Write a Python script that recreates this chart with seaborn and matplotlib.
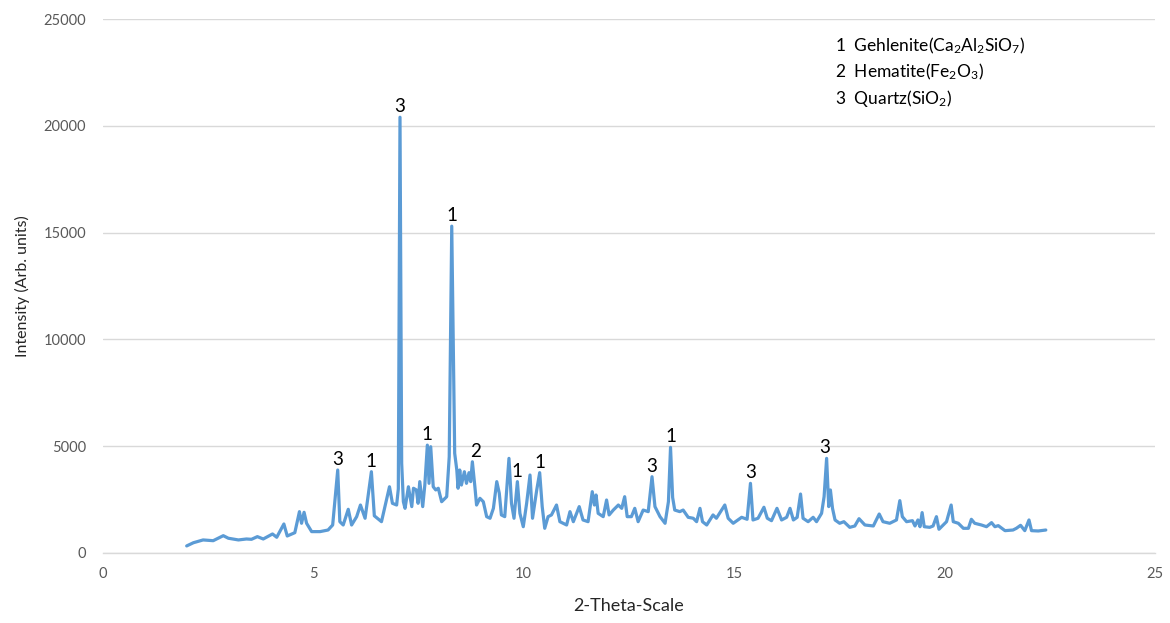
import numpy as np
import pandas as pd
import matplotlib
matplotlib.use("Agg")
import matplotlib.pyplot as plt
import seaborn as sns

# XRD pattern: 2-theta positions and measured intensities
two_theta = [
    1.99, 2.15, 2.38, 2.62, 2.86, 2.98, 3.22, 3.41, 3.53, 3.67, 3.81, 4.03, 4.13,
    4.30, 4.38, 4.56, 4.67, 4.72, 4.78, 4.84, 4.96, 5.16, 5.35, 5.46, 5.58, 5.63,
    5.71, 5.83, 5.91, 6.03, 6.12, 6.23, 6.38, 6.45, 6.62, 6.81, 6.88, 6.98, 7.02,
    7.06, 7.10, 7.14, 7.18, 7.26, 7.34, 7.38, 7.45, 7.49, 7.53, 7.60, 7.65, 7.71,
    7.75, 7.79, 7.85, 7.91, 7.97, 8.05, 8.17, 8.23, 8.29, 8.33, 8.36, 8.41, 8.44,
    8.48, 8.52, 8.59, 8.64, 8.70, 8.74, 8.78, 8.84, 8.88, 8.96, 9.04, 9.12, 9.20,
    9.28, 9.36, 9.42, 9.47, 9.55, 9.65, 9.71, 9.77, 9.85, 9.91, 9.99, 10.07,
    10.15, 10.21, 10.31, 10.38, 10.44, 10.50, 10.58, 10.66, 10.78, 10.86, 11.02,
    11.10, 11.18, 11.32, 11.41, 11.53, 11.63, 11.68, 11.72, 11.77, 11.89, 11.97,
    12.03, 12.13, 12.25, 12.33, 12.40, 12.46, 12.56, 12.64, 12.72, 12.84, 12.96,
    13.05, 13.12, 13.24, 13.36, 13.44, 13.49, 13.54, 13.59, 13.71, 13.79, 13.91,
    14.03, 14.11, 14.19, 14.25, 14.35, 14.50, 14.58, 14.78, 14.86, 14.98, 15.18,
    15.31, 15.39, 15.45, 15.57, 15.71, 15.79, 15.89, 16.02, 16.13, 16.25, 16.33,
    16.41, 16.50, 16.58, 16.64, 16.76, 16.88, 16.96, 17.08, 17.14, 17.20, 17.25,
    17.29, 17.34, 17.40, 17.51, 17.61, 17.75, 17.87, 17.97, 18.11, 18.31, 18.45,
    18.54, 18.70, 18.86, 18.94, 19.00, 19.10, 19.24, 19.30, 19.37, 19.42, 19.47,
    19.52, 19.65, 19.73, 19.81, 19.87, 20.05, 20.16, 20.21, 20.33, 20.45, 20.57,
    20.64, 20.72, 20.88, 21.00, 21.12, 21.20, 21.28, 21.44, 21.63, 21.71, 21.81,
    21.91, 22.01, 22.07, 22.23, 22.41,
]
intensity = [
    330, 480, 610, 575, 810, 690, 610, 655, 640, 765, 655, 890, 735,
    1357, 795, 950, 1935, 1390, 1905, 1390, 1000, 1000, 1075, 1310, 3885, 1465,
    1310, 2045, 1310, 1700, 2245, 1625, 3805, 1740, 1465, 3100, 2325, 2245, 3000,
    20400, 4200, 2400, 2090, 3100, 2170, 3030, 2950, 2325, 3340, 2170, 3180, 5050,
    3260, 4975, 3100, 2950, 3030, 2400, 2635, 4500, 15300, 9000, 4665, 3885, 3030,
    3885, 3180, 3805, 3260, 3760, 3340, 4270, 3100, 2245, 2560, 2400, 1700, 1625,
    2090, 3340, 2795, 1780, 1700, 4430, 2325, 1625, 3340, 1856, 1230, 2325,
    3650, 1625, 2950, 3760, 2170, 1155, 1700, 1780, 2245, 1465, 1310,
    1935, 1465, 2170, 1545, 1465, 2870, 2245, 2715, 1856, 1700, 2480,
    1780, 2010, 2245, 2090, 2635, 1700, 1700, 2090, 1465, 2010, 1935,
    3570, 2170, 1700, 1390, 2400, 4945, 2600, 2010, 1935, 2010, 1670,
    1625, 1465, 2090, 1465, 1310, 1780, 1625, 2245, 1625, 1390, 1670,
    1577, 3260, 1545, 1625, 2140, 1625, 1512, 2090, 1545, 1670, 2090,
    1545, 1670, 2760, 1625, 1465, 1670, 1465, 1856, 2635, 4430, 2170,
    2950, 2090, 1545, 1390, 1465, 1200, 1264, 1605, 1310, 1264, 1825,
    1465, 1390, 1545, 2450, 1700, 1465, 1512, 1264, 1545, 1230, 1890,
    1230, 1200, 1264, 1700, 1110, 1465, 2245, 1465, 1390, 1155, 1155,
    1577, 1390, 1310, 1230, 1420, 1230, 1280, 1045, 1075, 1155, 1295,
    1045, 1545, 1045, 1030, 1075,
]

# Phase markers placed over the reflections
peak_positions = [5.58, 6.38, 7.06, 7.71, 8.29, 8.85, 9.84, 10.38, 13.05, 13.49, 15.39, 17.15]
peak_phases = ["3", "1", "3", "1", "1", "2", "1", "1", "3", "1", "3", "3"]

phase_legend = [
    "1  Gehlenite($\\mathregular{Ca_2Al_2SiO_7}$)",
    "2  Hematite($\\mathregular{Fe_2O_3}$)",
    "3  Quartz($\\mathregular{SiO_2}$)",
]

df = pd.DataFrame({"two_theta": two_theta, "intensity": intensity})

sns.set_theme(style="whitegrid")
plt.rcParams["font.family"] = ["Lato", "DejaVu Sans"]
plt.rcParams["mathtext.fontset"] = "custom"
plt.rcParams["mathtext.rm"] = "Lato"

fig = plt.figure(figsize=(11.7, 6.23), dpi=100)
ax = fig.add_axes([0.088, 0.1124, 0.899, 0.8571])

sns.lineplot(data=df, x="two_theta", y="intensity", ax=ax,
             color="#5B9BD5", linewidth=2.3)

ax.set_xlim(0, 25)
ax.set_ylim(0, 25000)
ax.set_xticks(np.arange(0, 26, 5))
ax.set_yticks(np.arange(0, 25001, 5000))
ax.set_facecolor("white")
ax.grid(axis="y", color="#D9D9D9", linewidth=1.0)
ax.grid(axis="x", visible=False)
for side in ["left", "right", "top"]:
    ax.spines[side].set_visible(False)
ax.spines["bottom"].set_color("#D9D9D9")
ax.spines["bottom"].set_linewidth(1.0)
ax.tick_params(axis="both", length=0, labelsize=10.5, labelcolor="#595959")
ax.tick_params(axis="x", pad=10)
ax.tick_params(axis="y", pad=12)

ax.set_xlabel("2-Theta-Scale", fontsize=13, color="#262626", labelpad=12)
ax.set_ylabel("Intensity (Arb. units)", fontsize=11.5, color="#262626", labelpad=10)

# Phase numbers above each reflection
tt = np.array(two_theta)
ii = np.array(intensity)
for pos, lab in zip(peak_positions, peak_phases):
    top = ii[np.abs(tt - pos) <= 0.1].max()
    ax.annotate(lab, xy=(pos, top), xytext=(0, 1.5), textcoords="offset points",
                ha="center", va="bottom", fontsize=13.5, color="black")

for k, line in enumerate(phase_legend):
    ax.text(0.696, 0.949 - k * 0.0487, line, transform=ax.transAxes,
            ha="left", va="center", fontsize=12.5, color="black")

fig.savefig("out.png", dpi=100, facecolor="white")
